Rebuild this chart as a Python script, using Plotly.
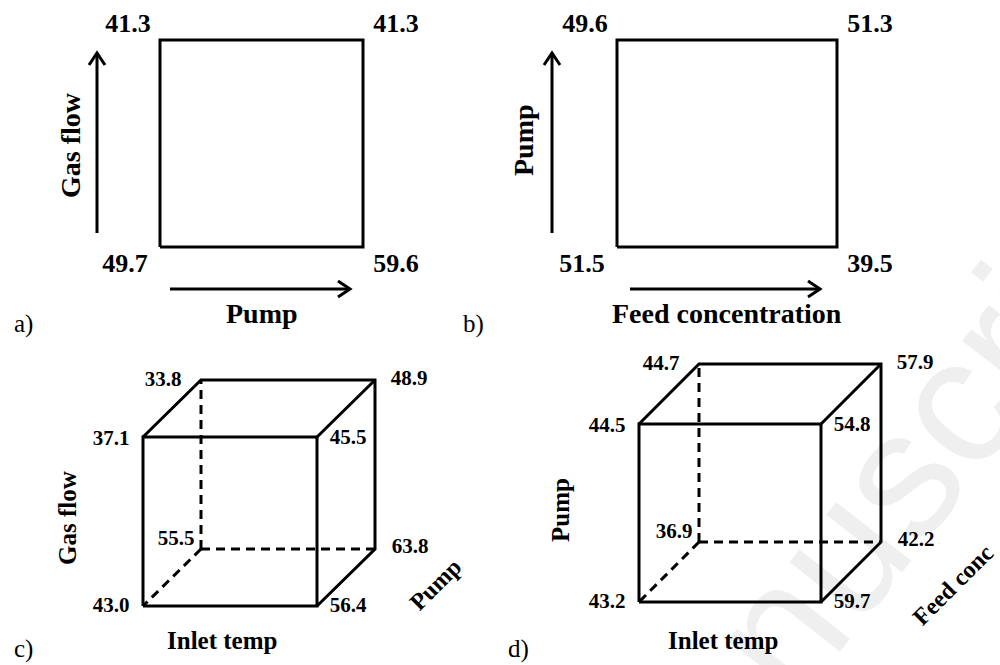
import plotly.graph_objects as go

# ---------------- data ----------------
square_corners = [(0, 0), (1, 0), (0, 1), (1, 1)]          # BL, BR, TL, TR
a_values = [49.7, 59.6, 41.3, 41.3]
a_axis_labels = ["Pump", "Gas flow"]
b_values = [51.5, 39.5, 49.6, 51.3]
b_axis_labels = ["Feed concentration", "Pump"]

cube_corners = [(0, 0, 0), (1, 0, 0), (0, 1, 0), (1, 1, 0),   # front BL, BR, TL, TR
                (0, 0, 1), (1, 0, 1), (0, 1, 1), (1, 1, 1)]   # back  BL, BR, TL, TR
c_values = [43.0, 56.4, 37.1, 45.5, 55.5, 63.8, 33.8, 48.9]
c_axis_labels = ["Inlet temp", "Gas flow", "Pump"]
d_values = [43.2, 59.7, 44.5, 54.8, 36.9, 42.2, 44.7, 57.9]
d_axis_labels = ["Inlet temp", "Pump", "Feed conc"]
panel_tags = ["a)", "b)", "c)", "d)"]
watermark_text = "manuscript"

# ---------------- layout constants ----------------
SERIF = "Liberation Serif, Times New Roman, serif"
LW = 3
SQ_NUM, CUBE_NUM, AXIS_FS, CUBE_AXIS_FS, TAG_FS = 26, 21, 28, 25, 25

sq_panels = [
    dict(x0=160, y0=247, w=203, h=207, vals=a_values, labels=a_axis_labels,
         varrow=(97, 233, 53), harrow=(289, 170, 350), ylab=(70, 145), xlab=(262, 313),
         tag=(23, 324)),
    dict(x0=617, y0=247, w=220, h=207, vals=b_values, labels=b_axis_labels,
         varrow=(552, 233, 53), harrow=(289, 630, 820), ylab=(523, 140), xlab=(727, 313),
         tag=(473, 324)),
]
cube_panels = [
    dict(x0=143, y0=606, w=174, h=169, dx=58, dy=-57, vals=c_values, labels=c_axis_labels,
         xlab=(222, 640), ylab=(67, 518), zlab=(435, 585), tag=(23, 649)),
    dict(x0=639, y0=602, w=182, h=178, dx=60, dy=-60, vals=d_values, labels=d_axis_labels,
         xlab=(723, 640), ylab=(560, 510), zlab=(953, 585), tag=(518, 649)),
]
SQ_OFF = {(0, 0): (-35, 18), (1, 0): (33, 18), (0, 1): (-32, -15), (1, 1): (33, -15)}
CUBE_OFF = {(0, 0, 0): (-32, 1), (1, 0, 0): (31, 1), (0, 1, 0): (-32, 3), (1, 1, 0): (31, 2),
            (0, 0, 1): (-25, -9), (1, 0, 1): (35, -1), (0, 1, 1): (-38, 1), (1, 1, 1): (34, 0)}


def sq_xy(P, i, j):
    return P["x0"] + i * P["w"], P["y0"] - j * P["h"]


def cube_xy(P, i, j, k):
    x, y = sq_xy(P, i, j)
    return x + k * P["dx"], y + k * P["dy"]


fig = go.Figure()
annotations = []

def add_path(xs, ys, dash="solid"):
    fig.add_trace(go.Scatter(x=xs, y=ys, mode="lines", hoverinfo="skip", showlegend=False,
                             line=dict(color="black", width=LW, dash=dash)))

def add_text(xs, ys, texts, size):
    fig.add_trace(go.Scatter(x=xs, y=ys, text=[f"<b>{t}</b>" for t in texts], mode="text",
                             hoverinfo="skip", showlegend=False,
                             textfont=dict(family=SERIF, size=size, color="black")))

def add_label(x, y, text, angle=0, size=AXIS_FS, bold=True):
    annotations.append(dict(x=x, y=y, xref="x", yref="y",
                            text=f"<b>{text}</b>" if bold else text, showarrow=False,
                            textangle=angle, xanchor="center", yanchor="middle",
                            font=dict(family=SERIF, size=size, color="black")))

# ---- squares ----
for P in sq_panels:
    order = [(0, 0), (1, 0), (1, 1), (0, 1), (0, 0)]
    pts = [sq_xy(P, i, j) for i, j in order]
    add_path([p[0] for p in pts], [p[1] for p in pts])
    vx, vy0, vy1 = P["varrow"]
    add_path([vx, vx, None, vx - 8, vx, vx + 8], [vy0, vy1, None, vy1 + 12, vy1, vy1 + 12])
    hy, hx0, hx1 = P["harrow"]
    add_path([hx0, hx1, None, hx1 - 12, hx1, hx1 - 12], [hy, hy, None, hy - 8, hy, hy + 8])
    xs, ys, ts = [], [], []
    for c, v in zip(square_corners, P["vals"]):
        x, y = sq_xy(P, *c)
        ox, oy = SQ_OFF[c]
        xs.append(x + ox); ys.append(y + oy); ts.append(f"{v:.1f}")
    add_text(xs, ys, ts, SQ_NUM)
    add_label(*P["xlab"], P["labels"][0])
    add_label(*P["ylab"], P["labels"][1], angle=-90)

# ---- cubes ----
for P in cube_panels:
    C = {c: cube_xy(P, *c) for c in cube_corners}
    solid = [[(0, 0, 0), (1, 0, 0), (1, 1, 0), (0, 1, 0), (0, 0, 0)],
             [(0, 1, 0), (0, 1, 1), (1, 1, 1), (1, 0, 1), (1, 0, 0)],
             [(1, 1, 0), (1, 1, 1)]]
    dashed = [[(0, 0, 1), (0, 1, 1)], [(0, 0, 1), (1, 0, 1)], [(0, 0, 1), (0, 0, 0)]]
    for seg in dashed:
        add_path([C[c][0] for c in seg], [C[c][1] for c in seg], dash="9px,6px")
    for seg in solid:
        add_path([C[c][0] for c in seg], [C[c][1] for c in seg])
    xs, ys, ts = [], [], []
    for c, v in zip(cube_corners, P["vals"]):
        x, y = C[c]
        ox, oy = CUBE_OFF[c]
        xs.append(x + ox); ys.append(y + oy); ts.append(f"{v:.1f}")
    add_text(xs, ys, ts, CUBE_NUM)
    add_label(*P["xlab"], P["labels"][0], size=CUBE_AXIS_FS)
    add_label(*P["ylab"], P["labels"][1], angle=-90, size=CUBE_AXIS_FS)
    add_label(*P["zlab"], P["labels"][2], angle=-45, size=CUBE_AXIS_FS - 1)

# ---- panel tags ----
for P, tag in zip(sq_panels + cube_panels, panel_tags):
    add_label(*P["tag"], tag, size=TAG_FS, bold=False)

shapes = [dict(type="rect", xref="x", yref="y", x0=660, x1=1040, y0=320, y1=700,
               line=dict(width=0), fillcolor="rgba(0,0,0,0)", layer="below",
               label=dict(text=watermark_text, textangle=-52, textposition="middle center",
                          font=dict(family="Liberation Sans", size=180, color="#efefef")))]

fig.update_layout(
    width=1000, height=665, margin=dict(l=0, r=0, t=0, b=0),
    paper_bgcolor="white", plot_bgcolor="white",
    xaxis=dict(range=[0, 1000], visible=False, fixedrange=True),
    yaxis=dict(range=[665, 0], visible=False, fixedrange=True),
    annotations=annotations, shapes=shapes, showlegend=False,
)
fig.write_html("out.html")
